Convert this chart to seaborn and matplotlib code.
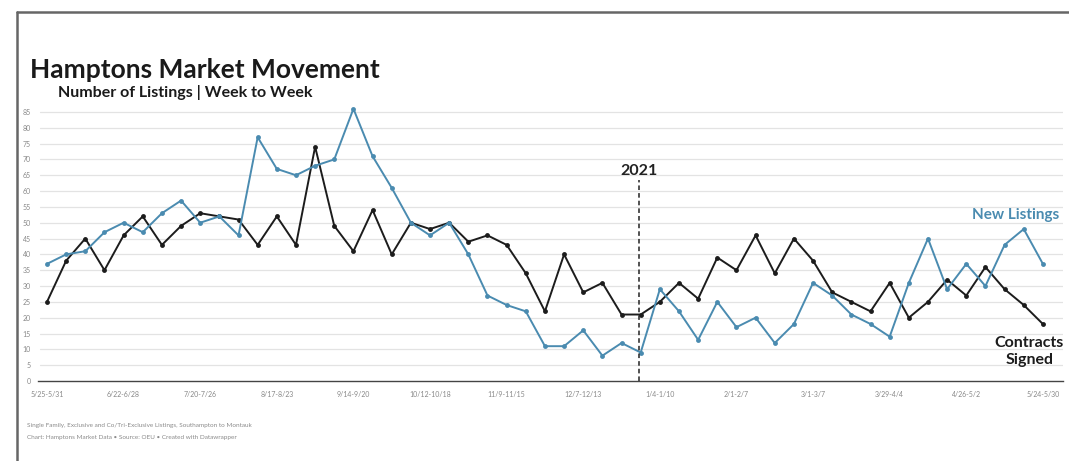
import numpy as np
import pandas as pd
import matplotlib
matplotlib.use("Agg")
import matplotlib.pyplot as plt
from matplotlib.lines import Line2D
import seaborn as sns

# ---- data ----
week_starts = pd.date_range("2020-05-25", periods=53, freq="7D")
weeks = [f"{d.month}/{d.day}-{(d + pd.Timedelta(days=6)).month}/{(d + pd.Timedelta(days=6)).day}" for d in week_starts]

new_listings = [37, 40, 41, 47, 50, 47, 53, 57, 50, 52, 46, 77, 67, 65, 68, 70, 86, 71,
                61, 50, 46, 50, 40, 27, 24, 22, 11, 11, 16, 8, 12, 9, 29, 22, 13, 25,
                17, 20, 12, 18, 31, 27, 21, 18, 14, 31, 45, 29, 37, 30, 43, 48, 37]
contracts_signed = [25, 38, 45, 35, 46, 52, 43, 49, 53, 52, 51, 43, 52, 43, 74, 49, 41, 54,
                    40, 50, 48, 50, 44, 46, 43, 34, 22, 40, 28, 31, 21, 21, 25, 31, 26, 39,
                    35, 46, 34, 45, 38, 28, 25, 22, 31, 20, 25, 32, 27, 36, 29, 24, 18]

tick_labels = ["5/25-5/31", "6/22-6/28", "7/20-7/26", "8/17-8/23", "9/14-9/20",
               "10/12-10/18", "11/9-11/15", "12/7-12/13", "1/4-1/10", "2/1-2/7",
               "3/1-3/7", "3/29-4/4", "4/26-5/2", "5/24-5/30"]
y_ticks = list(range(0, 90, 5))

series_names = ["New Listings", "Contracts Signed"]
colors = {"New Listings": "#4a8bb0", "Contracts Signed": "#1c1c1c"}

df = pd.DataFrame({
    "idx": list(range(len(weeks))) * 2,
    "week": weeks * 2,
    "value": new_listings + contracts_signed,
    "series": ["New Listings"] * len(weeks) + ["Contracts Signed"] * len(weeks),
})

# ---- plot ----
sns.set_style("white")
plt.rcParams["font.family"] = ["Lato", "DejaVu Sans"]

fig = plt.figure(figsize=(10.69, 4.61), dpi=100)
ax = fig.add_axes([38 / 1069, 80 / 461, 1025 / 1069, 275.4 / 461])

sns.lineplot(data=df, x="idx", y="value", hue="series", hue_order=["Contracts Signed", "New Listings"],
             palette=colors, marker="o", markersize=3.5, markeredgewidth=0, linewidth=1.4,
             ax=ax, legend=False)

ax.set_xlim(-0.47, 53.05)
ax.set_ylim(0, 87)
ax.set_yticks(y_ticks)
ax.set_yticklabels([str(v) for v in y_ticks], fontsize=5, color="#888888")
for v in y_ticks[1:]:
    ax.axhline(v, color="#e3e3e3", linewidth=0.9, zorder=0, xmin=0.002)

ax.set_xticks(range(0, 53, 2), minor=False)
ax.set_xticklabels([tick_labels[i // 4] if i % 4 == 0 else "" for i in range(0, 53, 2)],
                   fontsize=5, color="#888888")
ax.tick_params(axis="x", length=3, width=0.7, color="#555555", pad=4)
ax.tick_params(axis="y", length=0, pad=5)
ax.set_xlabel("")
ax.set_ylabel("")
for s in ["top", "right", "left"]:
    ax.spines[s].set_visible(False)
ax.spines["bottom"].set_color("#444444")
ax.spines["bottom"].set_linewidth(1.0)

# 2021 marker
ax.plot([30.9, 30.9], [0, 63.5], linestyle=(0, (3, 2)), color="#222222", linewidth=1.1)
ax.text(30.9, 64, "2021", ha="center", va="bottom", fontsize=11.5, fontweight="bold", color="#222222")

# direct labels
ax.text(48.3, 52.5, "New Listings", ha="left", va="center", fontsize=11, fontweight="bold",
        color="#4a8bb0", clip_on=False)
ax.text(51.3, 9.3, "Contracts\nSigned", ha="center", va="center", fontsize=11.5, fontweight="bold",
        color="#1c1c1c", linespacing=1.3, clip_on=False)

# titles
fig.text(30 / 1069, 1 - 70 / 461, "Hamptons Market Movement", ha="left", va="center",
         fontsize=19, fontweight="bold", color="#1a1a1a")
fig.text(58 / 1069, 1 - 93 / 461, "Number of Listings | Week to Week", ha="left", va="center",
         fontsize=11.5, fontweight="bold", color="#1a1a1a")

# footnotes
fig.text(27 / 1069, 1 - 425 / 461,
         "Single Family, Exclusive and Co/Tri-Exclusive Listings, Southampton to Montauk",
         ha="left", va="center", fontsize=4.6, color="#8a8a8a")
fig.text(27 / 1069, 1 - 437 / 461,
         "Chart: Hamptons Market Data \u2022 Source: OEU \u2022 Created with Datawrapper",
         ha="left", va="center", fontsize=4.6, color="#8a8a8a")

# frame border
fig.add_artist(Line2D([17 / 1069, 1.0], [1 - 12 / 461, 1 - 12 / 461], color="#666666", linewidth=1.8,
                      transform=fig.transFigure))
fig.add_artist(Line2D([17 / 1069, 17 / 1069], [0, 1 - 12 / 461], color="#666666", linewidth=1.8,
                      transform=fig.transFigure))

fig.savefig("out.png", dpi=100)
